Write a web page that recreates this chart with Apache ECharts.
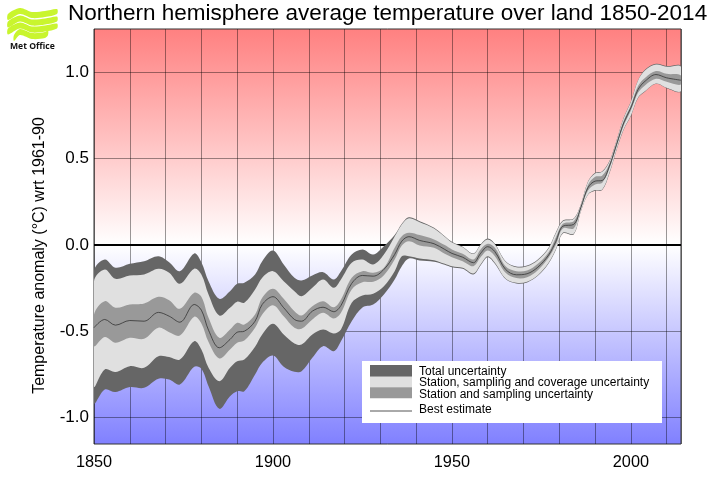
<!DOCTYPE html>
<html><head><meta charset="utf-8">
<style>html,body{margin:0;padding:0;background:#fff}#c{width:708px;height:504px}</style>
<script src="https://cdn.jsdelivr.net/npm/echarts@6/dist/echarts.min.js"></script>
</head><body><div id="c"></div>
<script>
const years=[1850,1853,1856,1860,1864,1868,1871,1874,1878,1880,1882,1885,1888,1890,1892,1895,1897,1900,1903,1906,1908,1911,1914,1917,1919,1922,1925,1928,1931,1934,1936,1938,1941,1945,1948,1950,1953,1956,1958,1960,1962,1965,1968,1971,1974,1977,1979,1981,1984,1986,1988,1990,1992,1994,1996,1998,2000,2002,2004,2007,2010,2014];
const totalUpper=[-0.152,-0.084,-0.132,-0.109,-0.094,-0.065,-0.100,-0.152,-0.049,-0.100,-0.210,-0.312,-0.268,-0.225,-0.219,-0.171,-0.094,-0.032,-0.113,-0.190,-0.206,-0.177,-0.158,-0.200,-0.152,-0.055,-0.026,-0.055,-0.007,0.057,0.123,0.161,0.138,0.100,0.051,0.019,-0.010,-0.049,0.003,0.038,0.007,-0.094,-0.125,-0.119,-0.084,-0.016,0.071,0.142,0.154,0.235,0.368,0.419,0.428,0.486,0.607,0.739,0.832,0.955,1.017,1.050,1.037,1.037];
const coverageUpper=[-0.210,-0.142,-0.196,-0.177,-0.171,-0.138,-0.161,-0.225,-0.138,-0.171,-0.287,-0.409,-0.364,-0.329,-0.335,-0.258,-0.190,-0.152,-0.210,-0.268,-0.297,-0.248,-0.200,-0.248,-0.200,-0.103,-0.084,-0.113,-0.055,0.049,0.119,0.155,0.132,0.096,0.048,0.014,-0.014,-0.053,-0.001,0.032,0.003,-0.097,-0.129,-0.123,-0.088,-0.020,0.067,0.138,0.150,0.232,0.365,0.414,0.424,0.482,0.604,0.736,0.829,0.954,1.013,1.046,1.033,1.033];
const stationUpper=[-0.403,-0.326,-0.364,-0.345,-0.339,-0.300,-0.320,-0.370,-0.277,-0.300,-0.422,-0.538,-0.490,-0.451,-0.461,-0.403,-0.306,-0.254,-0.312,-0.384,-0.409,-0.355,-0.326,-0.361,-0.316,-0.190,-0.152,-0.161,-0.132,-0.016,0.051,0.071,0.057,0.032,-0.001,-0.026,-0.051,-0.084,-0.026,0.007,-0.016,-0.123,-0.152,-0.148,-0.109,-0.042,0.042,0.123,0.138,0.223,0.348,0.395,0.403,0.471,0.594,0.722,0.812,0.921,0.969,1.008,0.992,0.983];
const bestEstimate=[-0.480,-0.432,-0.465,-0.438,-0.442,-0.391,-0.413,-0.448,-0.345,-0.378,-0.494,-0.596,-0.548,-0.506,-0.500,-0.442,-0.345,-0.300,-0.364,-0.432,-0.442,-0.384,-0.361,-0.387,-0.351,-0.223,-0.177,-0.181,-0.142,-0.055,0.022,0.048,0.026,0.007,-0.026,-0.049,-0.071,-0.103,-0.049,-0.010,-0.039,-0.142,-0.173,-0.167,-0.129,-0.059,0.019,0.109,0.119,0.216,0.332,0.370,0.374,0.457,0.583,0.708,0.795,0.901,0.950,0.988,0.969,0.955];
const stationLower=[-0.586,-0.534,-0.567,-0.538,-0.544,-0.480,-0.506,-0.525,-0.416,-0.455,-0.563,-0.658,-0.606,-0.567,-0.554,-0.480,-0.403,-0.349,-0.413,-0.480,-0.486,-0.432,-0.393,-0.426,-0.393,-0.258,-0.216,-0.213,-0.175,-0.084,-0.003,0.022,-0.003,-0.016,-0.051,-0.071,-0.094,-0.123,-0.072,-0.032,-0.065,-0.161,-0.192,-0.187,-0.146,-0.074,-0.001,0.096,0.096,0.206,0.316,0.351,0.361,0.443,0.571,0.693,0.780,0.882,0.926,0.963,0.946,0.930];
const coverageLower=[-0.819,-0.722,-0.737,-0.703,-0.712,-0.645,-0.650,-0.664,-0.558,-0.606,-0.712,-0.790,-0.712,-0.674,-0.664,-0.590,-0.519,-0.457,-0.519,-0.571,-0.577,-0.519,-0.490,-0.513,-0.490,-0.335,-0.293,-0.283,-0.239,-0.152,-0.065,-0.065,-0.078,-0.088,-0.109,-0.123,-0.132,-0.165,-0.113,-0.065,-0.103,-0.194,-0.219,-0.213,-0.175,-0.103,-0.026,0.071,0.065,0.194,0.293,0.318,0.322,0.419,0.554,0.672,0.751,0.855,0.892,0.936,0.911,0.892];
const totalLower=[-0.916,-0.838,-0.853,-0.824,-0.828,-0.776,-0.780,-0.809,-0.706,-0.718,-0.819,-0.950,-0.877,-0.848,-0.848,-0.751,-0.683,-0.641,-0.706,-0.735,-0.732,-0.654,-0.587,-0.616,-0.558,-0.442,-0.362,-0.345,-0.287,-0.200,-0.123,-0.078,-0.090,-0.097,-0.115,-0.129,-0.138,-0.171,-0.119,-0.071,-0.109,-0.198,-0.223,-0.217,-0.179,-0.107,-0.030,0.067,0.061,0.193,0.291,0.314,0.318,0.414,0.551,0.670,0.748,0.852,0.890,0.934,0.909,0.890];
const yTicks=[-1,-0.5,0,0.5,1];
const xLabelYears=[1850,1900,1950,2000];
const legendLabels=['Total uncertainty','Station, sampling and coverage uncertainty','Station and sampling uncertainty','Best estimate'];
const FONT='"Liberation Sans", Arial, sans-serif';

function band(name,upper,lower,color,z){
  return {type:'custom',name,z,clip:true,silent:true,
    encode:{x:0,y:[1,2]},
    data:years.map((y,i)=>[y,upper[i],lower[i]]),
    renderItem(params,api){
      if(params.dataIndex!==0) return null;
      const up=years.map((y,i)=>api.coord([y,upper[i]]));
      const lo=years.map((y,i)=>api.coord([y,lower[i]])).reverse();
      return {type:'polygon',shape:{points:up.concat(lo),smooth:0.35},style:{fill:color,stroke:null}};
    }};
}
const chart=echarts.init(document.getElementById('c'),null,{renderer:'canvas'});
const swX=370,swW=42,txtX=419;
const legendG=[
 {type:'rect',shape:{x:362,y:361,width:300,height:62},style:{fill:'#fff'},z:50},
 {type:'rect',shape:{x:swX,y:365,width:swW,height:11.7},style:{fill:'#666666'},z:51},
 {type:'rect',shape:{x:swX,y:376.7,width:swW,height:10.6},style:{fill:'#e0e0e0'},z:51},
 {type:'rect',shape:{x:swX,y:387.3,width:swW,height:11},style:{fill:'#999999'},z:51},
 {type:'line',shape:{x1:swX,y1:411,x2:swX+swW,y2:411},style:{stroke:'#555',lineWidth:1},z:51}
];
[371.7,383,394.3,410].forEach((y,i)=>legendG.push({type:'text',x:txtX,y,z:51,style:{text:legendLabels[i],font:'12px '+FONT,fill:'#000',verticalAlign:'middle'}}));
const lime='#c9f52e';
const wave=(dy,x0,x1)=>[[x0,14+dy],[20,8+dy],[32,12+dy],[45,11+dy],[x1,9+dy],[x1,14+dy],[45,17+dy],[32,18+dy],[20,14+dy],[x0,20+dy]];
const logoG=[wave(0,8,57),wave(7.5,8,57),wave(14.5,8,57),wave(21,14,48)].map(w=>({type:'polygon',shape:{points:w,smooth:0.3},style:{fill:lime},z:60}));
logoG.push({type:'text',x:10,y:47,z:60,style:{text:'Met Office',font:'bold 8.6px "Open Sans", '+FONT,fill:'#111',verticalAlign:'middle'}});

chart.setOption({
  animation:false,
  title:{text:'Northern hemisphere average temperature over land 1850-2014',left:63,top:-3,
    textStyle:{fontFamily:FONT,fontSize:22.5,fontWeight:'normal',color:'#000'}},
  grid:{left:94,right:27,top:29,bottom:60,show:true,borderColor:'#333',borderWidth:1,
    backgroundColor:{type:'linear',x:0,y:0,x2:0,y2:1,colorStops:[
      {offset:0,color:'#ff8080'},{offset:0.52,color:'#ffffff'},{offset:1,color:'#8080ff'}]}},
  xAxis:{type:'value',min:1850,max:2014,interval:10,
    axisLine:{show:false},axisTick:{show:false},
    splitLine:{show:true,lineStyle:{color:'rgba(0,0,0,0.4)',width:1}},
    axisLabel:{fontFamily:FONT,fontSize:16.3,color:'#000',margin:11,showMaxLabel:false,
      formatter:v=>xLabelYears.includes(v)?String(v):''}},
  yAxis:{type:'value',min:-1.154,max:1.252,
    name:'Temperature anomaly (\u00B0C) wrt 1961-90',nameLocation:'middle',nameGap:46,nameRotate:90,
    nameTextStyle:{fontFamily:FONT,fontSize:16,color:'#000',padding:[0,38,0,0]},
    axisLine:{show:false},axisTick:{show:false,customValues:yTicks},
    splitLine:{show:true,lineStyle:{color:'rgba(0,0,0,0.4)',width:1}},
    axisLabel:{fontFamily:FONT,fontSize:17,color:'#000',margin:5,customValues:yTicks,formatter:v=>v.toFixed(1)}},
  series:[
    {type:'line',name:'Zero',z:1,silent:true,showSymbol:false,data:[[1850,0],[2014,0]],lineStyle:{color:'#000',width:2}},
    band(legendLabels[0],totalUpper,totalLower,'#666666',2),
    band(legendLabels[1],coverageUpper,coverageLower,'#e0e0e0',3),
    band(legendLabels[2],stationUpper,stationLower,'#999999',4),
    {type:'line',name:legendLabels[3],z:5,silent:true,showSymbol:false,smooth:0.35,
      data:years.map((y,i)=>[y,bestEstimate[i]]),lineStyle:{color:'#333',width:0.8}}
  ],
  graphic:{elements:legendG.concat(logoG)}
});
</script></body></html>
